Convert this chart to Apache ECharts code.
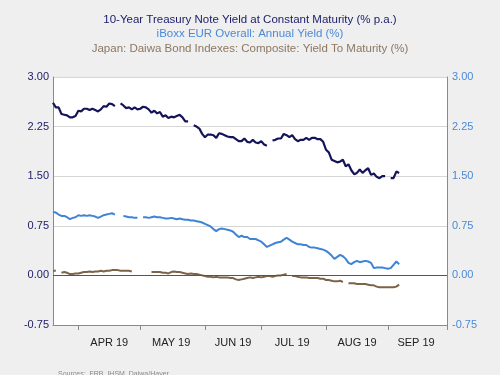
<!DOCTYPE html>
<html>
<head>
<meta charset="utf-8">
<title>yields</title>
<script src="https://cdn.jsdelivr.net/npm/echarts@6/dist/echarts.min.js"></script>
<style>
	body { margin: 0; background: #efefef; }
	#chart { width: 500px; height: 375px; }
</style>
</head>
<body>
<div id="chart"></div>
<script>
	// business-day axis, first and last day shown
	var startDay = '2019-03-19';
	var endDay = '2019-10-01';
	var monthLabels = ['APR 19', 'MAY 19', 'JUN 19', 'JUL 19', 'AUG 19', 'SEP 19'];
	var yTicks = [-0.75, 0, 0.75, 1.5, 2.25, 3];

	// 10-Year Treasury, one value per business day from Mar 19
	var treasury = [
		2.61, 2.54, 2.54, 2.44, 2.43, 2.42, 2.39, 2.39, 2.41,
		2.49, 2.48, 2.52, 2.52, 2.50, 2.52, 2.50, 2.48, 2.51, 2.56, 2.55, 2.60, 2.59, 2.56, null, 2.60, 2.57, 2.53, 2.54, 2.51, 2.54, 2.51,
		2.52, 2.55, 2.54, 2.51, 2.46, 2.49, 2.45, 2.47, 2.40, 2.42, 2.38, 2.40, 2.39, 2.41, 2.43, 2.39, 2.33, 2.33, null, 2.27, 2.25, 2.22, 2.14,
		2.09, 2.13, 2.13, 2.12, 2.08, 2.15, 2.14, 2.12, 2.10, 2.09, 2.09, 2.06, 2.03, 2.03, 2.07, 2.02, 2.01, 2.05, 2.01, 2.00,
		2.03, 1.98, 1.96, null, 2.04, 2.05, 2.07, 2.07, 2.14, 2.12, 2.09, 2.12, 2.06, 2.03, 2.05, 2.05, 2.08, 2.05, 2.08, 2.08, 2.06, 2.06, 2.02,
		1.90, 1.86, 1.75, 1.73, 1.71, 1.72, 1.75, 1.65, 1.68, 1.59, 1.53, 1.55, 1.60, 1.55, 1.59, 1.62, 1.52, 1.54, 1.49, 1.47, 1.50, 1.50,
		null, 1.47, 1.47, 1.57, 1.55
	];
	// iBoxx EUR Overall annual yield
	var iboxx = [
		0.96, 0.95, 0.92, 0.90, 0.90, 0.88, 0.85, 0.87, 0.88,
		0.91, 0.90, 0.91, 0.90, 0.91, 0.90, 0.89, 0.87, 0.89, 0.91, 0.92, 0.93, 0.94, 0.92, null, null, 0.90, 0.89, 0.88, 0.88, 0.87, 0.87,
		null, 0.88, 0.88, 0.87, 0.88, 0.89, 0.88, 0.88, 0.87, 0.86, 0.86, 0.87, 0.86, 0.85, 0.86, 0.85, 0.84, 0.84, 0.83, 0.83, 0.82, 0.81, 0.80,
		0.78, 0.76, 0.74, 0.70, 0.67, 0.70, 0.71, 0.70, 0.69, 0.68, 0.66, 0.62, 0.58, 0.60, 0.58, 0.58, 0.55, 0.55, 0.55, 0.53,
		0.51, 0.47, 0.43, 0.45, 0.47, 0.49, 0.50, 0.51, 0.54, 0.57, 0.54, 0.51, 0.49, 0.47, 0.47, 0.46, 0.46, 0.43, 0.42, 0.42, 0.41, 0.40, 0.39,
		0.37, 0.34, 0.30, 0.25, 0.28, 0.31, 0.29, 0.25, 0.19, 0.17, 0.20, 0.22, 0.20, 0.21, 0.22, 0.21, 0.19, 0.11, 0.12, 0.12, 0.12, 0.11,
		0.10, 0.11, 0.16, 0.21, 0.17
	];
	// Japan: Daiwa composite yield to maturity
	var daiwa = [
		0.07, 0.07, null, 0.04, 0.05, 0.04, 0.02, 0.02, 0.03,
		0.03, 0.04, 0.05, 0.05, 0.06, 0.05, 0.06, 0.06, 0.07, 0.06, 0.07, 0.07, 0.08, 0.08, 0.08, 0.07, 0.07, 0.07, 0.07, 0.06, null, null,
		null, null, null, null, 0.05, 0.05, 0.05, 0.05, 0.04, 0.04, 0.03, 0.05, 0.06, 0.05, 0.05, 0.04, 0.03, 0.02, 0.03, 0.02, 0.02, 0.01, 0.00,
		-0.01, -0.02, -0.02, -0.03, -0.02, -0.03, -0.03, -0.03, -0.03, -0.04, -0.04, -0.06, -0.07, -0.06, -0.05, -0.04, -0.03, -0.04, -0.03, -0.02,
		-0.03, -0.02, -0.01, -0.01, -0.02, -0.01, 0.00, 0.00, 0.01, 0.02, null, -0.01, -0.01, -0.02, -0.03, -0.03, -0.03, -0.04, -0.04, -0.04, -0.04, -0.05, -0.05,
		-0.07, -0.07, -0.08, -0.09, -0.09, -0.08, -0.10, null, -0.12, -0.12, -0.12, -0.13, -0.13, -0.13, -0.13, -0.14, -0.15, -0.15, -0.17, -0.18, -0.18, -0.18,
		-0.18, -0.18, -0.18, -0.17, -0.14
	];

	var font = 'Liberation Sans, Arial, sans-serif';

	function businessDays(a, b) {
		var out = [];
		var d = new Date(a + 'T00:00:00Z');
		var e = new Date(b + 'T00:00:00Z');
		while (d <= e) {
			var w = d.getUTCDay();
			if (w != 0 && w != 6) out.push(d.toISOString().slice(0, 10));
			d.setUTCDate(d.getUTCDate() + 1);
		}
		return out;
	}

	var days = businessDays(startDay, endDay);

	// first business day of each month -> tick, middle of month -> label
	var monthStarts = [];
	for (var i = 1; i < days.length; i++) {
		if (days[i].slice(5, 7) != days[i - 1].slice(5, 7)) monthStarts.push(i);
	}
	var labelAt = {};
	for (var k = 0; k < monthStarts.length - 1; k++) {
		labelAt[Math.floor((monthStarts[k] + monthStarts[k + 1]) / 2)] = monthLabels[k];
	}

	var chart = echarts.init(document.getElementById('chart'));

	var option = {
		backgroundColor: '#efefef',
		animation: false,
		title: [
			{ text: '10-Year Treasury Note Yield at Constant Maturity (% p.a.)', left: 'center', top: 9,
				textStyle: { color: '#1b1b68', fontSize: 11.5, fontWeight: 'normal', fontFamily: font } },
			{ text: 'iBoxx EUR Overall: Annual Yield (%)', left: 'center', top: 23,
				textStyle: { color: '#4a8ad6', fontSize: 11.5, fontWeight: 'normal', fontFamily: font } },
			{ text: 'Japan: Daiwa Bond Indexes: Composite: Yield To Maturity (%)', left: 'center', top: 38,
				textStyle: { color: '#8c7762', fontSize: 11.5, fontWeight: 'normal', fontFamily: font } },
			{ text: 'Sources:  FRB, IHSM, Daiwa/Haver', left: 53, top: 366,
				textStyle: { color: '#888', fontSize: 7, fontWeight: 'normal', fontFamily: font } }
		],
		grid: {
			left: 53, right: 53, top: 77, bottom: 50,
			show: true, backgroundColor: '#fff', borderWidth: 0
		},
		xAxis: {
			type: 'category',
			data: days,
			boundaryGap: false,
			axisLine: { onZero: false, lineStyle: { color: '#8a8a8a', width: 1 } },
			axisTick: {
				length: 5,
				lineStyle: { color: '#8a8a8a' },
				interval: function (idx) { return monthStarts.indexOf(idx) >= 0; }
			},
			axisLabel: {
				margin: 12,
				color: '#222',
				fontSize: 11,
				fontFamily: font,
				interval: function (idx) { return labelAt[idx] !== undefined; },
				formatter: function (v, idx) { return labelAt[idx] || ''; }
			},
			splitLine: { show: false }
		},
		yAxis: [
			{
				type: 'value', min: yTicks[0], max: yTicks[yTicks.length - 1], interval: 0.75,
				axisLine: { show: true, lineStyle: { color: '#8a8a8a' } },
				axisTick: { show: false },
				axisLabel: { margin: 4, color: '#1b1b68', fontSize: 11, fontFamily: font,
					formatter: function (v) { return v.toFixed(2); } },
				splitLine: { lineStyle: { color: '#d6d6d6', width: 1 } }
			},
			{
				type: 'value', min: yTicks[0], max: yTicks[yTicks.length - 1], interval: 0.75,
				position: 'right',
				axisLine: { show: true, lineStyle: { color: '#8a8a8a' } },
				axisTick: { show: false },
				axisLabel: { margin: 5, color: '#4a8ad6', fontSize: 11, fontFamily: font,
					formatter: function (v) { return v.toFixed(2); } },
				splitLine: { show: false }
			}
		],
		series: [
			{
				name: 'Japan', type: 'line', data: daiwa, yAxisIndex: 0,
				showSymbol: false, connectNulls: false,
				lineStyle: { color: '#7d6348', width: 2 },
				markLine: {
					silent: true, symbol: 'none', label: { show: false },
					lineStyle: { color: '#555', type: 'solid', width: 1 },
					data: [{ yAxis: 0 }]
				},
				z: 3
			},
			{
				name: 'iBoxx', type: 'line', data: iboxx, yAxisIndex: 1,
				showSymbol: false, connectNulls: false,
				lineStyle: { color: '#3d84d6', width: 2 }
			},
			{
				name: 'Treasury', type: 'line', data: treasury, yAxisIndex: 0,
				showSymbol: false, connectNulls: false,
				lineStyle: { color: '#14145a', width: 2.2 }
			}
		]
	};

	chart.setOption(option);
</script>
</body>
</html>
